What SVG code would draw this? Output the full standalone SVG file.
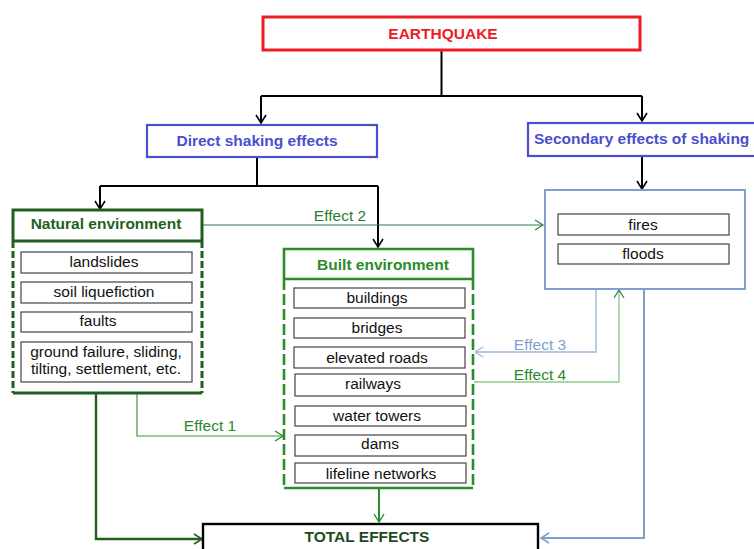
<svg xmlns="http://www.w3.org/2000/svg" width="754" height="549" viewBox="0 0 754 549">
<style>
text{font-family:"Liberation Sans",Arial,sans-serif;}
.t{font-size:15.5px;text-anchor:middle;fill:#111;}
.h{font-size:15.5px;font-weight:bold;text-anchor:middle;}
.hs{font-size:15.5px;font-weight:bold;text-anchor:start;}
.item{fill:#fff;stroke:#444;stroke-width:1.2;}
.eff{font-size:15.5px;text-anchor:middle;}
.c{fill:none;}
</style>
<defs>
<marker id="aK" markerWidth="12" markerHeight="12" refX="10" refY="6" orient="auto" markerUnits="userSpaceOnUse"><path d="M2,1 L10,6 L2,11" fill="none" stroke="#000" stroke-width="1.6"/></marker>
<marker id="aDG" markerWidth="12" markerHeight="12" refX="10" refY="6" orient="auto" markerUnits="userSpaceOnUse"><path d="M2,1 L10,6 L2,11" fill="none" stroke="#1f5f1f" stroke-width="1.6"/></marker>
<marker id="aG" markerWidth="12" markerHeight="12" refX="10" refY="6" orient="auto" markerUnits="userSpaceOnUse"><path d="M2,1 L10,6 L2,11" fill="none" stroke="#2a8c2a" stroke-width="1.4"/></marker>
<marker id="aEG" markerWidth="12" markerHeight="12" refX="10" refY="6" orient="auto" markerUnits="userSpaceOnUse"><path d="M2,1 L10,6 L2,11" fill="none" stroke="#2e7d4a" stroke-width="1.2"/></marker>
<marker id="aLB" markerWidth="12" markerHeight="12" refX="10" refY="6" orient="auto" markerUnits="userSpaceOnUse"><path d="M2,1 L10,6 L2,11" fill="none" stroke="#9fb8dc" stroke-width="1.2"/></marker>
<marker id="aB" markerWidth="12" markerHeight="12" refX="10" refY="6" orient="auto" markerUnits="userSpaceOnUse"><path d="M2,1 L10,6 L2,11" fill="none" stroke="#7f9fcf" stroke-width="1.6"/></marker>
</defs>
<rect width="754" height="549" fill="#fff"/>

<g id="connectors">
<path class="c" d="M441.5,51 V96 M261,96 H642" stroke="#000" stroke-width="2"/>
<path class="c" d="M261,96 V123" stroke="#000" stroke-width="2" marker-end="url(#aK)"/>
<path class="c" d="M642,96 V121" stroke="#000" stroke-width="2" marker-end="url(#aK)"/>
<path class="c" d="M257,158 V186 M100,186 H378" stroke="#000" stroke-width="2"/>
<path class="c" d="M100,186 V209" stroke="#000" stroke-width="2" marker-end="url(#aK)"/>
<path class="c" d="M378,186 V247" stroke="#000" stroke-width="2" marker-end="url(#aK)"/>
<path class="c" d="M642,157 V189" stroke="#000" stroke-width="2" marker-end="url(#aK)"/>
<path class="c" d="M202,225 H543" stroke="#2e7d4a" stroke-width="1.2" marker-end="url(#aEG)"/>
<path class="c" d="M596,290 V352 H475" stroke="#9fb8dc" stroke-width="1.4" marker-end="url(#aLB)"/>
<path class="c" d="M474,382 H619 V290" stroke="#8fcc8f" stroke-width="1.4" marker-end="url(#aEG)"/>
<path class="c" d="M137,393 V436 H283" stroke="#3a9a3a" stroke-width="1.2" marker-end="url(#aG)"/>
<path class="c" d="M96,393 V539 H202" stroke="#1f5f1f" stroke-width="2.4" marker-end="url(#aDG)"/>
<path class="c" d="M379,488 V522" stroke="#2a8c2a" stroke-width="2" marker-end="url(#aG)"/>
<path class="c" d="M644,290 V538 H541" stroke="#7f9fcf" stroke-width="2" marker-end="url(#aB)"/>
<text class="eff" x="340" y="221" fill="#2e7d32">Effect 2</text>
<text class="eff" x="540" y="350" fill="#7f9fcf">Effect 3</text>
<text class="eff" x="540" y="380" fill="#2a8a2a">Effect 4</text>
<text class="eff" x="210" y="431" fill="#2a8a2a">Effect 1</text>
</g>

<g id="earthquake">
<rect x="263" y="17" width="377" height="33" fill="#fff" stroke="#ed1c24" stroke-width="3"/>
<text class="h" x="443" y="39" fill="#ed1c24">EARTHQUAKE</text>
</g>

<g id="direct">
<rect x="147" y="125" width="230" height="32" fill="#fff" stroke="#4a4fcf" stroke-width="2.2"/>
<text class="h" x="257" y="146" fill="#4a4fcf">Direct shaking effects</text>
</g>

<g id="secondary">
<rect x="528" y="123" width="240" height="33" fill="#fff" stroke="#4a4fcf" stroke-width="2.2"/>
<text class="hs" x="534" y="144" fill="#4a4fcf">Secondary effects of shaking</text>
</g>

<g id="secondary-effects">
<rect x="545" y="190" width="200" height="99" fill="#fff" stroke="#7f9fcf" stroke-width="2"/>
<rect class="item" x="558" y="214" width="171" height="21"/>
<text class="t" x="643" y="230">fires</text>
<rect class="item" x="558" y="244" width="171" height="20"/>
<text class="t" x="643" y="259">floods</text>
</g>

<g id="natural">
<rect x="13" y="210" width="189" height="183" fill="#fff" stroke="none"/>
<path d="M13,241 V210 H202 V241 M13,241 H202 M13,393 H202" fill="none" stroke="#1f5f1f" stroke-width="3"/>
<path d="M13,241 V393 M202,241 V393" fill="none" stroke="#1f5f1f" stroke-width="3" stroke-dasharray="7,3"/>
<text class="h" x="106" y="229" fill="#1f5f1f">Natural environment</text>
<rect class="item" x="21" y="252" width="171" height="21"/>
<text class="t" x="104" y="267">landslides</text>
<rect class="item" x="21" y="282" width="171" height="21"/>
<text class="t" x="104" y="297">soil liquefiction</text>
<rect class="item" x="21" y="312" width="171" height="20"/>
<text class="t" x="98" y="326">faults</text>
<rect class="item" x="21" y="342" width="171" height="40"/>
<text class="t" x="106" y="357">ground failure, sliding,</text>
<text class="t" x="106" y="374">tilting, settlement, etc.</text>
</g>

<g id="built">
<rect x="284" y="249" width="189" height="239" fill="#fff" stroke="none"/>
<path d="M284,279 V249 H473 V279 M284,279 H473 M284,488 H473" fill="none" stroke="#2a8c2a" stroke-width="2.6"/>
<path d="M284,279 V488 M473,279 V488" fill="none" stroke="#2a8c2a" stroke-width="2.6" stroke-dasharray="11,4"/>
<text class="h" x="383" y="270" fill="#2a8c2a">Built environment</text>
<rect class="item" x="294" y="288" width="171" height="20"/>
<text class="t" x="377" y="303">buildings</text>
<rect class="item" x="294" y="318" width="171" height="20"/>
<text class="t" x="377" y="333">bridges</text>
<rect class="item" x="294" y="347" width="171" height="21"/>
<text class="t" x="377" y="363">elevated roads</text>
<rect class="item" x="295" y="374" width="171" height="22"/>
<text class="t" x="373" y="389">railways</text>
<rect class="item" x="295" y="406" width="171" height="20"/>
<text class="t" x="377" y="421">water towers</text>
<rect class="item" x="295" y="435" width="171" height="21"/>
<text class="t" x="380" y="449">dams</text>
<rect class="item" x="295" y="463" width="171" height="20"/>
<text class="t" x="381" y="479">lifeline networks</text>
</g>

<g id="total">
<rect x="203" y="524" width="335" height="40" fill="#fff" stroke="#000" stroke-width="2.4"/>
<text class="h" x="367" y="542" fill="#1f4a1f">TOTAL EFFECTS</text>
</g>
</svg>
